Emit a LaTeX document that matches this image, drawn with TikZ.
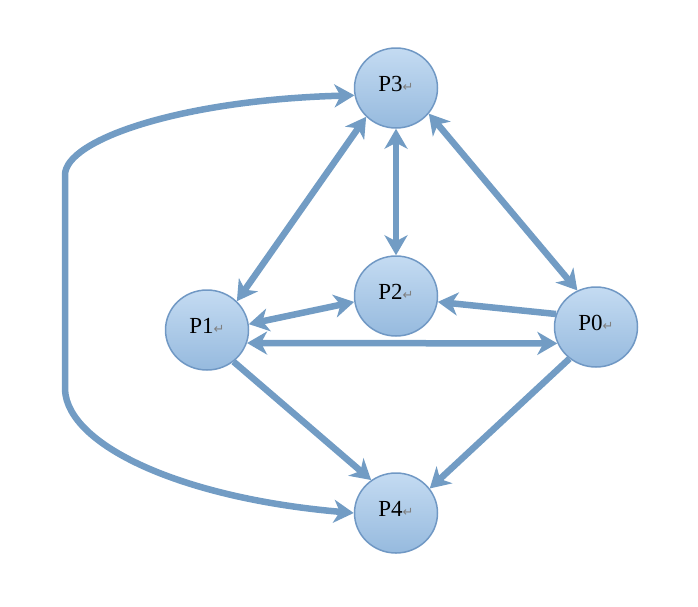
\documentclass[tikz,border=0pt]{standalone}
\usepackage{fontspec}
\setmainfont{Liberation Serif}
\newfontfamily\dvfont{DejaVu Sans}
\usetikzlibrary{arrows.meta,shapes.geometric}
\definecolor{edgec}{RGB}{114,156,196}
\definecolor{nodetop}{RGB}{196,219,242}
\definecolor{nodebot}{RGB}{150,186,222}
\definecolor{nodeline}{RGB}{112,152,196}
\newcommand{\retmark}{{\dvfont\fontsize{13pt}{13pt}\selectfont\color{gray}\char"21B5}}
\tikzset{
  proc/.style={ellipse, draw=nodeline, line width=1.5pt, top color=nodetop, bottom color=nodebot,
    minimum width=83pt, minimum height=80pt, inner sep=0pt, font=\fontsize{23pt}{23pt}\selectfont},
  edge/.style={draw=edgec, line width=6.5pt,
    >={Stealth[length=20pt,width=23pt,inset=6pt]}},
}
\begin{document}
\begin{tikzpicture}[x=1pt,y=-1pt]
\useasboundingbox (0,0) rectangle (698,606);
\node[proc] (P3) at (396,88) {\raisebox{8pt}{P3\retmark}};
\node[proc] (P2) at (396,296) {\raisebox{8pt}{P2\retmark}};
\node[proc] (P1) at (207,330) {\raisebox{8pt}{P1\retmark}};
\node[proc] (P0) at (596,327) {\raisebox{8pt}{P0\retmark}};
\node[proc] (P4) at (396,513) {\raisebox{8pt}{P4\retmark}};

\draw[edge,<->] (P1.44) -- (P3.224);
\draw[edge,<->] (P3.south) -- (P2.north);
\draw[edge,<->] (P3.-38) -- (P0.117);
\draw[edge,<->] (P1.8) -- (P2.188);
\draw[edge,->] (P0.162) -- (P2.-8);
\draw[edge,<->] (P1.-18) -- (P0.203);
\draw[edge,->] (P1.-50) -- (P4.127);
\draw[edge,->] (P0.230) -- (P4.36);
\draw[edge,<->] (P4.west) .. controls (180,498) and (68,445) .. (65,390)
  -- (65,175) .. controls (65,140) and (180,100) .. (P3.190);
\end{tikzpicture}
\end{document}
